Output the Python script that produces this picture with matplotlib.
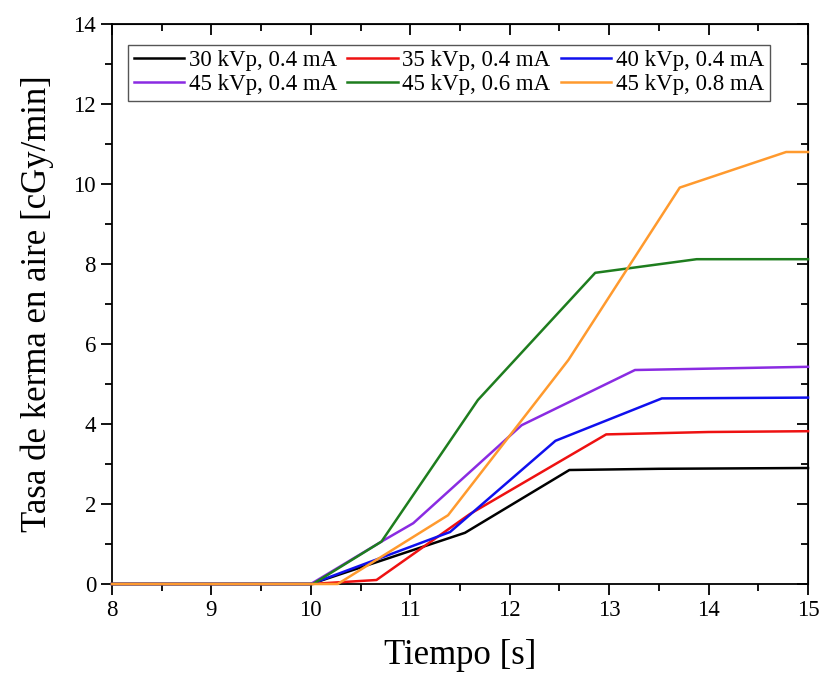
import matplotlib
matplotlib.use("Agg")
import matplotlib.pyplot as plt
from matplotlib.ticker import MultipleLocator

plt.rcParams['font.family'] = ['Liberation Serif', 'DejaVu Serif']

labels = ["30 kVp, 0.4 mA", "35 kVp, 0.4 mA", "40 kVp, 0.4 mA",
          "45 kVp, 0.4 mA", "45 kVp, 0.6 mA", "45 kVp, 0.8 mA"]
colors = ["#000000", "#ee1111", "#1010ee", "#8a2be2", "#1e7d1e", "#ff9a2e"]

t_30_04 = [8, 10.0, 11.55, 12.6, 13.5, 15]
v_30_04 = [0, 0.0, 1.28, 2.85, 2.88, 2.9]

t_35_04 = [8, 10.0, 10.66, 11.6, 12.97, 14.0, 15]
v_35_04 = [0, 0.0, 0.10, 1.75, 3.74, 3.80, 3.82]

t_40_04 = [8, 10.0, 11.4, 12.46, 13.53, 15]
v_40_04 = [0, 0.0, 1.30, 3.58, 4.64, 4.66]

t_45_04 = [8, 10.0, 10.71, 11.03, 12.12, 13.26, 15]
v_45_04 = [0, 0.0, 1.06, 1.52, 3.97, 5.35, 5.43]

t_45_06 = [8, 10.02, 10.71, 11.68, 12.86, 13.88, 15]
v_45_06 = [0, 0.0, 1.06, 4.60, 7.78, 8.12, 8.12]

t_45_08 = [8, 10.27, 11.38, 12.59, 13.71, 14.78, 15]
v_45_08 = [0, 0.0, 1.72, 5.60, 9.91, 10.80, 10.80]

series_t = [t_30_04, t_35_04, t_40_04, t_45_04, t_45_06, t_45_08]
series_v = [v_30_04, v_35_04, v_40_04, v_45_04, v_45_06, v_45_08]

fig = plt.figure(figsize=(8.2, 6.77), dpi=100)
ax = fig.add_axes([112/820, 1-584/677, (808-112)/820, (584-24)/677])

handles = []
for t, v, c, l in zip(series_t, series_v, colors, labels):
    h, = ax.plot(t, v, color=c, lw=1.8, label=l, clip_on=False, zorder=3)
    handles.append(h)

ax.set_xlim(8, 15)
ax.set_ylim(0, 14)
ax.xaxis.set_major_locator(MultipleLocator(1))
ax.xaxis.set_minor_locator(MultipleLocator(0.5))
ax.yaxis.set_major_locator(MultipleLocator(2))
ax.yaxis.set_minor_locator(MultipleLocator(1))
ax.tick_params(which='both', direction='out', labelsize=16.5, width=1.3)
ax.tick_params(which='major', length=8)
ax.tick_params(which='minor', length=5)
for s in ax.spines.values():
    s.set_linewidth(1.3)

top = ax.secondary_xaxis('top')
top.xaxis.set_major_locator(MultipleLocator(1))
top.xaxis.set_minor_locator(MultipleLocator(0.5))
top.tick_params(which='both', direction='in', labeltop=False, width=1.3)
top.tick_params(which='major', length=8)
top.tick_params(which='minor', length=5)
right = ax.secondary_yaxis('right')
right.yaxis.set_major_locator(MultipleLocator(2))
right.yaxis.set_minor_locator(MultipleLocator(1))
right.tick_params(which='both', direction='in', labelright=False, width=1.3)
right.tick_params(which='major', length=8)
right.tick_params(which='minor', length=5)

ax.set_xlabel("Tiempo [s]", fontsize=25, labelpad=13)
ax.set_ylabel("Tasa de kerma en aire [cGy/min]", fontsize=25, labelpad=14)

order = [0, 3, 1, 4, 2, 5]
leg = ax.legend([handles[i] for i in order], [labels[i] for i in order],
                loc='upper left', bbox_to_anchor=(0.023, 0.963), ncol=3,
                fontsize=16.5, handlelength=2.2, handletextpad=0.2,
                columnspacing=0.45, labelspacing=0.1, borderpad=0.25,
                fancybox=False, framealpha=1, edgecolor='#555555',
                borderaxespad=0)
leg.get_frame().set_linewidth(1.0)

fig.savefig("out.png", dpi=100)
